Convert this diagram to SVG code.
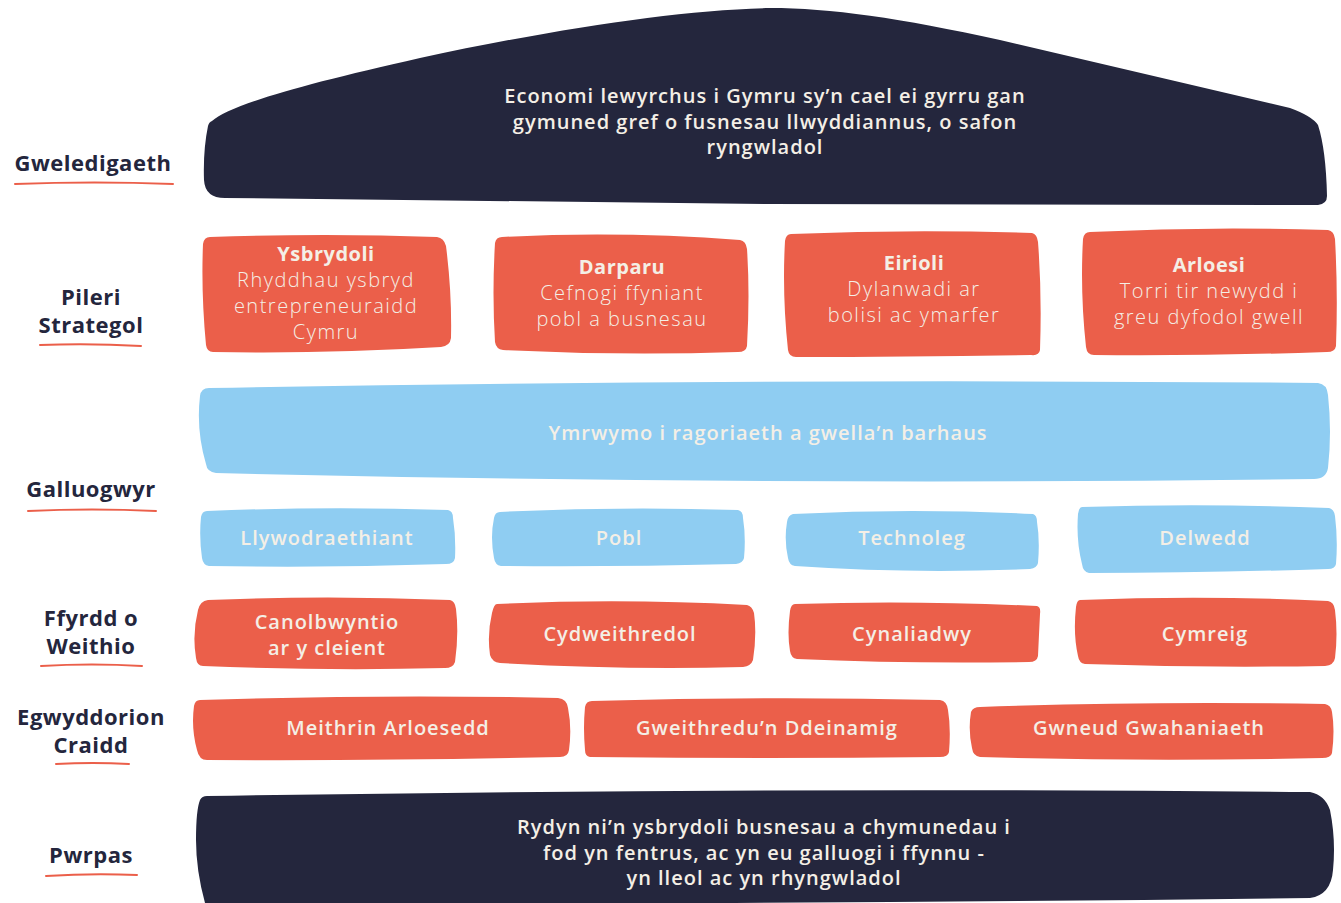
<svg xmlns="http://www.w3.org/2000/svg" width="1341" height="903" viewBox="0 0 1341 903">
<style>
.navy{fill:#24263D}
.coral{fill:#EB5F4A}
.blue{fill:#8FCDF2}
.lbl{font-family:"Open Sans","Noto Sans",sans-serif;font-weight:700;font-size:22px;letter-spacing:0.5px;fill:#24263D;text-anchor:middle}
.ul{stroke:#EB5F4A;stroke-width:2;fill:none;stroke-linecap:round}
.t{font-family:"Open Sans","Noto Sans",sans-serif;font-weight:600;font-size:20px;letter-spacing:1px;fill:#F4EFE6;text-anchor:middle}
.tl{font-family:"Open Sans","Noto Sans",sans-serif;font-weight:300;font-size:20px;letter-spacing:1.5px;fill:#F4EFE6;text-anchor:middle}
.tb{font-family:"Open Sans","Noto Sans",sans-serif;font-weight:700;font-size:20px;letter-spacing:0.5px;fill:#F4EFE6;text-anchor:middle}
</style>
<rect width="1341" height="903" fill="#FFFFFF"/>
<g id="labels">
<text class="lbl" x="93" y="171">Gweledigaeth</text>
<path class="ul" d="M15,184 Q95,181 173,184"/>
<text class="lbl" x="91" y="305">Pileri</text>
<text class="lbl" x="91" y="333">Strategol</text>
<path class="ul" d="M40,345 Q90,343 141,346"/>
<text class="lbl" x="91" y="497">Galluogwyr</text>
<path class="ul" d="M28,511 Q92,508 156,511"/>
<text class="lbl" x="91" y="626">Ffyrdd o</text>
<text class="lbl" x="91" y="654">Weithio</text>
<path class="ul" d="M41,666 Q92,663 142,666"/>
<text class="lbl" x="91" y="725">Egwyddorion</text>
<text class="lbl" x="91" y="753">Craidd</text>
<path class="ul" d="M56,764 Q93,762 129,764"/>
<text class="lbl" x="91" y="863">Pwrpas</text>
<path class="ul" d="M46,876 Q92,873 137,875"/>
</g>
<g id="vision">
<path class="navy" d="M212,121 C230,105 300,85 420,58 C560,28 680,10 770,8 C830,8 900,18 1000,40 L1290,108 Q1312,116 1318,125 Q1326,150 1327,196 Q1327,204 1318,205 L770,204 L225,198 Q205,198 204,180 Q203,150 208,126 Q209,122 212,121 Z"/>
<text class="t" x="765" y="103">Economi lewyrchus i Gymru sy’n cael ei gyrru gan</text>
<text class="t" x="765" y="129">gymuned gref o fusnesau llwyddiannus, o safon</text>
<text class="t" x="765" y="154">ryngwladol</text>
</g>
<g id="pillar-ysbrydoli">
<path class="coral" d="M210,237 Q326,233 437,237 Q444,238 446,246 Q452,293 451,338 Q450,346 441,347 Q326,354 213,352 Q207,352 206,345 Q201,293 203,244 Q204,237 210,237 Z"/>
<text class="tb" x="326" y="261">Ysbrydoli</text>
<text class="tl" x="326" y="287">Rhyddhau ysbryd</text>
<text class="tl" x="326" y="313">entrepreneuraidd</text>
<text class="tl" x="326" y="339">Cymru</text>
</g>
<g id="pillar-darparu">
<path class="coral" d="M502,237 Q621,231 740,240 Q746,241 747,249 Q750,294 747,346 Q746,352 738,352 Q621,356 503,350 Q496,349 495,342 Q492,294 495,243 Q496,237 502,237 Z"/>
<text class="tb" x="622" y="274">Darparu</text>
<text class="tl" x="622" y="300">Cefnogi ffyniant</text>
<text class="tl" x="622" y="326">pobl a busnesau</text>
</g>
<g id="pillar-eirioli">
<path class="coral" d="M791,234 Q911,229 1032,233 Q1037,234 1038,242 Q1042,294 1040,350 Q1039,356 1031,355 Q911,357 796,357 Q789,357 788,350 Q782,294 785,241 Q786,234 791,234 Z"/>
<text class="tb" x="914" y="270">Eirioli</text>
<text class="tl" x="914" y="296">Dylanwadi ar</text>
<text class="tl" x="914" y="322">bolisi ac ymarfer</text>
</g>
<g id="pillar-arloesi">
<path class="coral" d="M1090,232 Q1209,226 1328,230 Q1334,231 1335,239 Q1338,292 1336,346 Q1335,352 1327,352 Q1209,356 1094,355 Q1087,355 1086,347 Q1080,292 1083,239 Q1084,232 1090,232 Z"/>
<text class="tb" x="1209" y="272">Arloesi</text>
<text class="tl" x="1209" y="298">Torri tir newydd i</text>
<text class="tl" x="1209" y="324">greu dyfodol gwell</text>
</g>
<g id="enabler-main">
<path class="blue" d="M209,388 Q764,378 1318,383 Q1327,384 1328,395 Q1332,432 1328,468 Q1326,479 1314,479 Q764,486 216,473 Q207,472 206,464 Q196,430 200,396 Q201,388 209,388 Z"/>
<text class="t" x="768" y="440">Ymrwymo i ragoriaeth a gwella’n barhaus</text>
</g>
<g id="enabler-llywodraethiant">
<path class="blue" d="M207,511 Q327,506 448,510 Q453,511 453,518 Q456,537 455,558 Q454,564 446,564 Q327,568 209,566 Q203,565 202,558 Q199,537 201,517 Q202,511 207,511 Z"/>
<text class="t" x="327" y="545">Llywodraethiant</text>
</g>
<g id="enabler-pobl">
<path class="blue" d="M500,512 Q619,506 738,510 Q743,511 743,518 Q746,537 744,558 Q743,563 736,564 Q619,567 501,566 Q495,565 494,558 Q490,537 494,518 Q495,512 500,512 Z"/>
<text class="t" x="619" y="545">Pobl</text>
</g>
<g id="enabler-technoleg">
<path class="blue" d="M793,514 Q912,508 1033,514 Q1037,515 1037,522 Q1040,540 1038,563 Q1037,568 1030,569 Q912,574 795,566 Q789,565 788,558 Q784,540 787,522 Q788,515 793,514 Z"/>
<text class="t" x="912" y="545">Technoleg</text>
</g>
<g id="enabler-delwedd">
<path class="blue" d="M1082,507 Q1205,503 1329,508 Q1334,509 1335,516 Q1338,540 1336,564 Q1335,569 1328,569 Q1205,573 1089,573 Q1083,572 1082,564 Q1076,540 1078,514 Q1079,507 1082,507 Z"/>
<text class="t" x="1205" y="545">Delwedd</text>
</g>
<g id="way-canolbwyntio">
<path class="coral" d="M208,600 Q327,595 450,600 Q455,601 456,609 Q459,634 455,662 Q453,668 445,668 Q327,671 203,666 Q197,666 196,658 Q192,634 198,610 Q200,601 208,600 Z"/>
<text class="t" x="327" y="629">Canolbwyntio</text>
<text class="t" x="327" y="655">ar y cleient</text>
</g>
<g id="way-cydweithredol">
<path class="coral" d="M497,604 Q620,598 747,605 Q752,606 754,613 Q757,634 753,660 Q751,666 743,667 Q620,670 500,663 Q492,662 490,655 Q487,634 492,613 Q494,604 497,604 Z"/>
<text class="t" x="620" y="641">Cydweithredol</text>
</g>
<g id="way-cynaliadwy">
<path class="coral" d="M795,604 Q912,600 1037,606 Q1041,607 1040,614 Q1039,634 1038,656 Q1037,662 1029,662 Q912,664 797,659 Q791,658 790,651 Q787,634 790,611 Q791,604 795,604 Z"/>
<text class="t" x="912" y="641">Cynaliadwy</text>
</g>
<g id="way-cymreig">
<path class="coral" d="M1080,600 Q1205,595 1328,601 Q1334,602 1335,610 Q1338,634 1335,658 Q1334,665 1325,666 Q1205,668 1085,664 Q1079,663 1078,656 Q1073,634 1076,607 Q1077,600 1080,600 Z"/>
<text class="t" x="1205" y="641">Cymreig</text>
</g>
<g id="core-meithrin">
<path class="coral" d="M200,700 Q388,694 558,698 Q567,699 568,708 Q572,728 569,750 Q568,757 560,757 Q388,761 207,760 Q199,760 197,750 Q191,728 194,706 Q195,700 200,700 Z"/>
<text class="t" x="388" y="735">Meithrin Arloesedd</text>
</g>
<g id="core-gweithredu">
<path class="coral" d="M592,701 Q767,696 940,700 Q947,701 948,710 Q951,728 949,752 Q948,757 940,757 Q767,759 590,757 Q585,756 585,750 Q583,728 585,707 Q586,701 592,701 Z"/>
<text class="t" x="767" y="735">Gweithredu’n Ddeinamig</text>
</g>
<g id="core-gwneud">
<path class="coral" d="M980,707 Q1149,701 1325,704 Q1331,705 1332,712 Q1335,730 1332,753 Q1331,758 1322,758 Q1149,762 980,757 Q973,756 972,748 Q968,730 971,712 Q973,707 980,707 Z"/>
<text class="t" x="1149" y="735">Gwneud Gwahaniaeth</text>
</g>
<g id="purpose">
<path class="navy" d="M207,796 Q764,787 1310,792 Q1325,795 1330,810 Q1336,840 1333,870 Q1331,895 1310,898 Q764,905 220,903 L205,903 Q196,870 196,840 Q196,810 200,800 Q202,796 207,796 Z"/>
<text class="t" x="764" y="834">Rydyn ni’n ysbrydoli busnesau a chymunedau i</text>
<text class="t" x="764" y="860">fod yn fentrus, ac yn eu galluogi i ffynnu -</text>
<text class="t" x="764" y="885">yn lleol ac yn rhyngwladol</text>
</g>
<g id="connectors"></g>
</svg>
